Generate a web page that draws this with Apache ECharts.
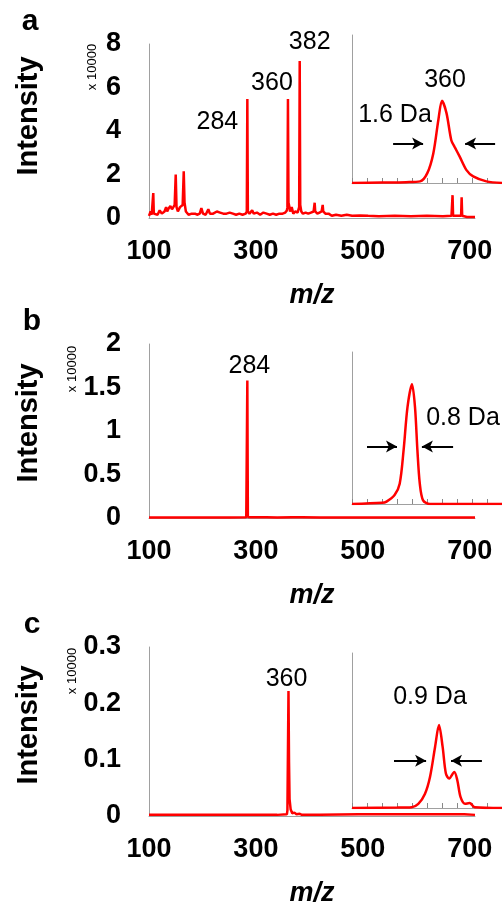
<!DOCTYPE html>
<html>
<head>
<meta charset="utf-8">
<script src="https://cdn.jsdelivr.net/npm/echarts@6/dist/echarts.min.js"></script>
<style>html,body{margin:0;padding:0;background:#fff}#c{width:502px;height:908px}</style>
</head>
<body>
<div id="c"></div>
<script>
// ---------- data (m/z, intensity x10000) ----------
const spectrumA = [
  [100,0.1],[103,0.3],[105,0.15],[107,0.2],[108,1.15],[109,0.2],[112,0.25],[116,0.15],[120,0.35],[122,0.4],
  [124,0.2],[129,0.3],[132,0.5],[134,0.3],[137,0.45],[140,0.55],[143,0.4],[148,0.6],[150,2.0],[151.5,0.5],
  [154,0.3],[158,0.5],[163,0.6],[165,2.15],[166.5,0.7],[169,0.3],[174,0.15],[180,0.2],[186,0.2],[190,0.15],
  [195,0.2],[198,0.45],[201,0.2],[206,0.15],[211,0.4],[214,0.2],[220,0.2],[227,0.3],[233,0.25],[239,0.2],
  [245,0.2],[251,0.25],[257,0.2],[263,0.15],[269,0.2],[275,0.15],[281,0.2],[283,0.3],[284,5.47],[285,0.3],
  [288,0.2],[293,0.35],[296,0.2],[302,0.25],[308,0.15],[314,0.25],[320,0.2],[326,0.15],[332,0.2],[338,0.15],
  [344,0.2],[350,0.2],[355,0.25],[358,0.35],[359,0.5],[360,5.47],[361,0.7],[362,0.6],[364,0.3],[367,0.5],
  [370,0.2],[374,0.3],[378,0.25],[381,0.5],[382,7.22],[383,0.6],[385,0.3],[388,0.2],[393,0.25],[398,0.2],
  [403,0.25],[408,0.3],[410,0.7],[411,0.3],[415,0.2],[419,0.25],[423,0.3],[425,0.6],[426,0.3],[430,0.2],
  [436,0.2],[442,0.1],[450,0.15],[460,0.1],[470,0.15],[480,0.1],[495,0.12],[510,0.1],[530,0.08],[560,0.1],
  [590,0.08],[620,0.1],[650,0.08],[666,0.1],[667,0.1],[668,1.05],[669,0.1],[684,0.1],[685,0.95],[686,0.1],
  [695,0.05],[710,0.05]
];
const spectrumB = [
  [100,0.005],[150,0.006],[200,0.005],[250,0.006],[282,0.008],[283,0.01],[284,1.58],[285,0.012],[290,0.01],
  [300,0.008],[320,0.008],[340,0.006],[368,0.01],[370,0.006],[387,0.01],[390,0.006],[420,0.006],[480,0.005],
  [540,0.006],[600,0.005],[660,0.005],[710,0.005]
];
const spectrumC = [
  [100,0.002],[150,0.002],[200,0.002],[250,0.002],[300,0.002],[340,0.002],[358,0.003],[359,0.01],[361,0.2217],
  [362,0.096],[363,0.03],[365,0.012],[368,0.005],[372,0.006],[376,0.003],[382,0.004],[386,0.002],[420,0.002],
  [492,0.003],[495,0.002],[554,0.003],[557,0.002],[588,0.003],[591,0.002],[664,0.003],[667,0.002],[690,0.003],[693,0.002],[710,0.002]
];
// inset profiles (normalised intensity)
const insetA = [
  [357,0],[358,0.005],[358.8,0.01],[359.27,0.02],[359.51,0.12],[359.71,0.36],[359.88,0.77],[360,1.0],
  [360.15,0.85],[360.31,0.52],[360.42,0.44],[360.59,0.32],[360.81,0.16],[361.04,0.08],[361.48,0.02],[362,0]
];
const insetB = [
  [282,0],[283,0.01],[283.15,0.02],[283.42,0.075],[283.59,0.17],[283.72,0.45],[283.85,0.81],[284,1.0],
  [284.1,0.81],[284.18,0.45],[284.26,0.17],[284.37,0.03],[284.6,0],[287,0]
];
const insetC = [
  [357,0],[358.5,0.005],[358.99,0.01],[359.21,0.05],[359.43,0.17],[359.6,0.375],[359.77,0.74],[359.9,1.0],
  [360.02,0.74],[360.13,0.415],[360.24,0.355],[360.41,0.435],[360.51,0.335],[360.62,0.13],[360.77,0.05],
  [360.92,0.06],[361.09,0.01],[362,0]
];
const ticksMainX = [100,300,500,700];
const peakLabelsA = [[284,5.47,'284'],[360,5.47,'360'],[382,7.22,'382']];
const peakLabelsB = [[284,1.58,'284']];
const peakLabelsC = [[361,0.2217,'360']];
const fwhmA = {label:'1.6 Da', y:0.48, left:[358.37,359.37], right:[361.77,360.77]};
const fwhmB = {label:'0.8 Da', y:0.48, left:[282.5,283.5], right:[285.37,284.33]};
const fwhmC = {label:'0.9 Da', y:0.57, left:[358.4,359.47], right:[361.33,360.3]};

// ---------- styling ----------
const FONT = 'Liberation Sans, Arial, Helvetica, sans-serif';
const RED = '#ff0000';
const GRAY = '#a0a0a0';

const chart = echarts.init(document.getElementById('c'), null, {renderer:'canvas'});

function mainX(gi){
  return {gridIndex:gi, type:'value', min:100, max:710, interval:100,
    axisLine:{show:true, lineStyle:{color:GRAY, width:1}}, axisTick:{show:false}, splitLine:{show:false},
    axisLabel:{show:true, margin:20, fontFamily:FONT, fontWeight:'bold', fontSize:27, color:'#000',
      showMaxLabel:false,
      formatter:v => ticksMainX.indexOf(Math.round(v))>=0 ? String(Math.round(v)) : ''},
    name:'m/z', nameLocation:'middle', nameGap:64,
    nameTextStyle:{fontFamily:FONT, fontWeight:'bold', fontStyle:'italic', fontSize:27, color:'#000'}};
}
function mainY(gi, max, interval){
  return {gridIndex:gi, type:'value', min:0, max:max, interval:interval,
    axisLine:{show:true, lineStyle:{color:GRAY, width:1}}, axisTick:{show:false}, splitLine:{show:false},
    axisLabel:{margin:28, fontFamily:FONT, fontWeight:'bold', fontSize:27, color:'#000',
      formatter:v => String(Math.round(v*100)/100)}};
}
function insetX(gi, min, max){
  return {gridIndex:gi, type:'value', min:min, max:max, interval:0.5,
    axisLine:{show:true, onZero:false, lineStyle:{color:GRAY, width:1}},
    axisTick:{show:true, inside:true, length:5, lineStyle:{color:'#888', width:1}},
    axisLabel:{show:false}, splitLine:{show:false}};
}
function insetY(gi, max){
  return {gridIndex:gi, type:'value', min:0, max:max,
    axisLine:{show:true, lineStyle:{color:GRAY, width:1}}, axisTick:{show:false},
    axisLabel:{show:false}, splitLine:{show:false}};
}
function peakMarks(list, offsets){
  return {silent:true, symbol:'circle', symbolSize:0,
    data:list.map((p,i)=>({coord:[p[0],p[1]], value:p[2],
      label:{show:true, position:'inside', formatter:p[2], offset:offsets[i],
        fontFamily:FONT, fontSize:25, color:'#000'}}))};
}
function arrowLines(f){
  return {silent:true, symbol:['none','arrow'], symbolSize:[9,11],
    lineStyle:{color:'#000', width:2, type:'solid'}, label:{show:false},
    data:[[{coord:[f.left[0],f.y]},{coord:[f.left[1],f.y]}],
          [{coord:[f.right[0],f.y]},{coord:[f.right[1],f.y]}]]};
}
function mainSeries(gi, data, marks){
  return {type:'line', xAxisIndex:gi, yAxisIndex:gi, data:data, showSymbol:false, animation:false,
    lineStyle:{color:RED, width:2.5}, itemStyle:{color:RED}, markPoint:marks};
}
function insetSeries(gi, data, marks, arrows){
  return {type:'line', xAxisIndex:gi, yAxisIndex:gi, data:data, showSymbol:false, smooth:0.3, animation:false,
    lineStyle:{color:RED, width:2.5}, itemStyle:{color:RED}, markPoint:marks, markLine:arrows};
}

const option = {
  backgroundColor:'#fff',
  animation:false,
  grid:[
    {left:149, top:44, width:326, height:174},
    {left:149, top:344, width:326, height:174},
    {left:149, top:647, width:326, height:173},
    {left:352, top:35, width:150, height:148},
    {left:352, top:352, width:150, height:152},
    {left:352, top:653, width:150, height:155}
  ],
  xAxis:[mainX(0), mainX(1), mainX(2), insetX(3,357,362), insetX(4,282,287), insetX(5,357,362)],
  yAxis:[mainY(0,8,2), mainY(1,2,0.5), mainY(2,0.3,0.1), insetY(3,1.8), insetY(4,1.27), insetY(5,1.87)],
  series:[
    mainSeries(0, spectrumA, peakMarks(peakLabelsA, [[-30,23],[-16,-16],[10,-19]])),
    mainSeries(1, spectrumB, peakMarks(peakLabelsB, [[2,-14]])),
    mainSeries(2, spectrumC, peakMarks(peakLabelsC, [[-2,-12]])),
    insetSeries(3, insetA, peakMarks([[360,1,'360'],[360,1,fwhmA.label]], [[3,-21],[-47,14]]), arrowLines(fwhmA)),
    insetSeries(4, insetB, peakMarks([[284,1,fwhmB.label]], [[51,34]]), arrowLines(fwhmB)),
    insetSeries(5, insetC, peakMarks([[359.9,1,fwhmC.label]], [[-9,-28]]), arrowLines(fwhmC))
  ],
  graphic:[
    {type:'text', x:30, y:22, style:{text:'a', font:'bold 30px '+FONT, fill:'#000', align:'center', verticalAlign:'middle'}},
    {type:'text', x:32, y:322, style:{text:'b', font:'bold 30px '+FONT, fill:'#000', align:'center', verticalAlign:'middle'}},
    {type:'text', x:32, y:625, style:{text:'c', font:'bold 30px '+FONT, fill:'#000', align:'center', verticalAlign:'middle'}},
    {type:'text', x:29, y:116, rotation:Math.PI/2, style:{text:'Intensity', font:'bold 29px '+FONT, fill:'#000', align:'center', verticalAlign:'middle'}},
    {type:'text', x:29, y:423, rotation:Math.PI/2, style:{text:'Intensity', font:'bold 29px '+FONT, fill:'#000', align:'center', verticalAlign:'middle'}},
    {type:'text', x:29, y:725, rotation:Math.PI/2, style:{text:'Intensity', font:'bold 29px '+FONT, fill:'#000', align:'center', verticalAlign:'middle'}},
    {type:'text', x:92, y:67, rotation:Math.PI/2, style:{text:'x 10000', font:'13px '+FONT, fill:'#000', align:'center', verticalAlign:'middle'}},
    {type:'text', x:72, y:369, rotation:Math.PI/2, style:{text:'x 10000', font:'13px '+FONT, fill:'#000', align:'center', verticalAlign:'middle'}},
    {type:'text', x:72, y:671, rotation:Math.PI/2, style:{text:'x 10000', font:'13px '+FONT, fill:'#000', align:'center', verticalAlign:'middle'}}
  ]
};
chart.setOption(option);
</script>
</body>
</html>
